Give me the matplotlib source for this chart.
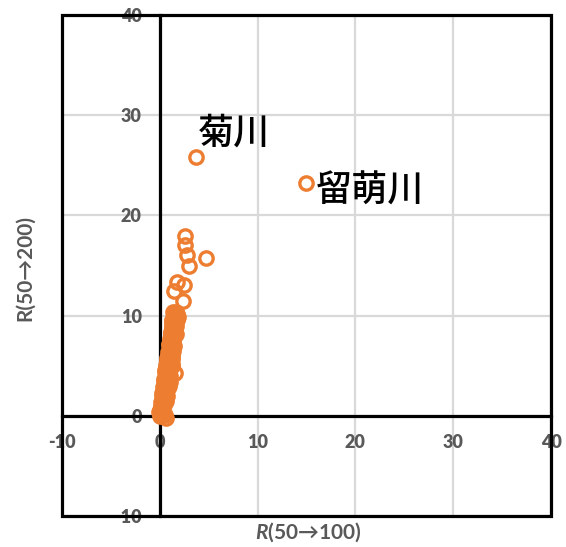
import matplotlib
matplotlib.use("Agg")
import matplotlib.pyplot as plt
from matplotlib.patches import Rectangle
from matplotlib.ticker import FuncFormatter

plt.rcParams["font.family"] = ["Lato", "DejaVu Sans"]
plt.rcParams["mathtext.fontset"] = "custom"
plt.rcParams["mathtext.it"] = "Lato:italic:bold"
plt.rcParams["mathtext.rm"] = "Lato:bold"

# R(50->100) and R(50->200) per river
r100 = [0.0, 0.1, 0.2, 0.1, 0.3, 0.2, 0.4, 0.3, 0.5, 0.4, 0.6, 0.5, 0.7, 0.6, 0.8,
        0.7, 0.9, 0.8, 1.0, 0.9, 1.1, 0.7, 1.0, 1.2, 1.1, 1.3, 1.0, 1.2, 1.4, 1.1,
        1.3, 1.5, 1.2, 1.4, 1.6, 1.3, 1.5, 1.7, 1.6, 0.3, 0.5, 0.2, 0.6, 0.4, 0.8,
        -0.1, 0.6, 0.2, 0.9, 1.0, 1.2, 0.8, 1.4, 1.1, 0.5, 0.9, 1.3, 1.5, 1.8, 1.4,
        0.0, 0.2, 0.4, 0.1, 0.3, 0.5, 0.2, 0.4, 0.6, 0.3, 0.5, 0.7, 0.4, 0.6, 0.8,
        0.5, 0.7, 0.9, 0.6, 0.8, 1.0, 0.7, 0.9, 1.1, 0.8, 1.0, 1.2, 0.9, 1.1, 1.3,
        1.0, 1.2, 1.4, 1.1, 1.3, 1.5, 1.2, 1.4, 1.6, 1.3, 1.5, 1.7, 1.4, 1.6, 1.8,
        0.1, 0.3, 0.7, 1.0, 1.3, 0.9, 0.6, 1.5, 1.1, 0.4, 1.2, 1.7, 0.8, 1.9, 0.2,
        1.7, 2.4, 1.5, 1.8, 2.5, 3.0, 2.8, 2.6, 2.6, 4.7, 3.7, 15.0]
r200 = [0.0, 0.2, 0.5, 0.8, 1.0, 1.3, 1.6, 1.9, 2.2, 2.5, 2.8, 3.1, 3.3, 3.6, 3.9,
        4.2, 4.5, 4.8, 5.0, 5.3, 5.6, 5.5, 5.9, 6.2, 6.5, 6.8, 7.0, 7.3, 7.6, 7.8,
        8.1, 8.4, 8.7, 9.0, 9.3, 9.6, 9.9, 10.1, 4.3, 0.3, 0.1, 2.0, 1.5, 3.5, 2.8,
        0.4, -0.2, 1.2, 3.0, 4.0, 5.0, 6.0, 6.5, 8.0, 4.6, 7.2, 9.2, 8.8, 10.2, 10.4,
        0.6, 0.9, 1.1, 1.4, 1.7, 1.9, 2.3, 2.6, 2.4, 2.9, 3.2, 3.0, 3.7, 4.0, 3.6,
        4.4, 4.7, 4.1, 5.1, 5.4, 4.9, 5.8, 6.1, 5.5, 6.4, 6.7, 5.9, 7.1, 7.4, 6.6,
        7.7, 8.0, 7.2, 8.3, 8.6, 7.9, 8.9, 9.2, 8.5, 9.5, 9.7, 9.0, 9.8, 10.0, 9.6,
        1.0, 0.1, 2.0, 3.4, 5.2, 6.3, 4.8, 7.0, 8.4, 2.7, 5.7, 8.2, 3.9, 9.9, 0.5,
        10.4, 11.5, 12.5, 13.4, 13.1, 14.9, 16.0, 17.0, 17.9, 15.7, 25.8, 23.2]

labels = {"菊川": (3.9, 28.2), "留萌川": (15.9, 22.4)}
ticks = [-10, 0, 10, 20, 30, 40]

orange = "#ED7D31"
gray = "#595959"

fig = plt.figure(figsize=(5.66, 5.47), dpi=100)
ax = fig.add_axes([0.1095, 0.0567, 0.864, 0.9159])

ax.plot(r100, r200, "o", mfc="none", mec=orange, ms=9.6, mew=2.4, zorder=3,
        clip_on=False)

for name, (lx, ly) in labels.items():
    ax.text(lx, ly, name, fontsize=26, va="center", ha="left", fontweight="medium",
            family=["Noto Sans CJK JP", "DejaVu Sans"], color="black", zorder=4)

ax.set_xlim(-10, 40)
ax.set_ylim(-10, 40)
ax.set_xticks(ticks)
ax.set_yticks(ticks)
fmt = FuncFormatter(lambda v, p: "%d" % v)
ax.xaxis.set_major_formatter(fmt)
ax.yaxis.set_major_formatter(fmt)

ax.grid(True, color="#d9d9d9", lw=1.6, zorder=0)
ax.set_axisbelow(True)

for s in ["top", "right"]:
    ax.spines[s].set_visible(False)
ax.spines["left"].set_position(("data", 0))
ax.spines["bottom"].set_position(("data", 0))
for s in ["left", "bottom"]:
    ax.spines[s].set_linewidth(2.3)
    ax.spines[s].set_zorder(2.5)

ax.add_patch(Rectangle((0, 0), 1, 1, transform=ax.transAxes, fill=False,
                       lw=2.3, ec="black", clip_on=False, zorder=2.5))

ax.tick_params(length=0, pad=13, labelsize=13, labelcolor=gray)
for t in ax.get_xticklabels() + ax.get_yticklabels():
    t.set_fontweight("heavy")

fig.text(0.545, 0.028, r"$\mathit{R}$(50→100)", fontsize=15, color=gray,
         fontweight="bold", ha="center", va="center")
fig.text(0.044, 0.51, "R(50→200)", fontsize=15, color=gray,
         fontweight="bold", ha="center", va="center", rotation=90)

fig.savefig("out.png", dpi=100)
